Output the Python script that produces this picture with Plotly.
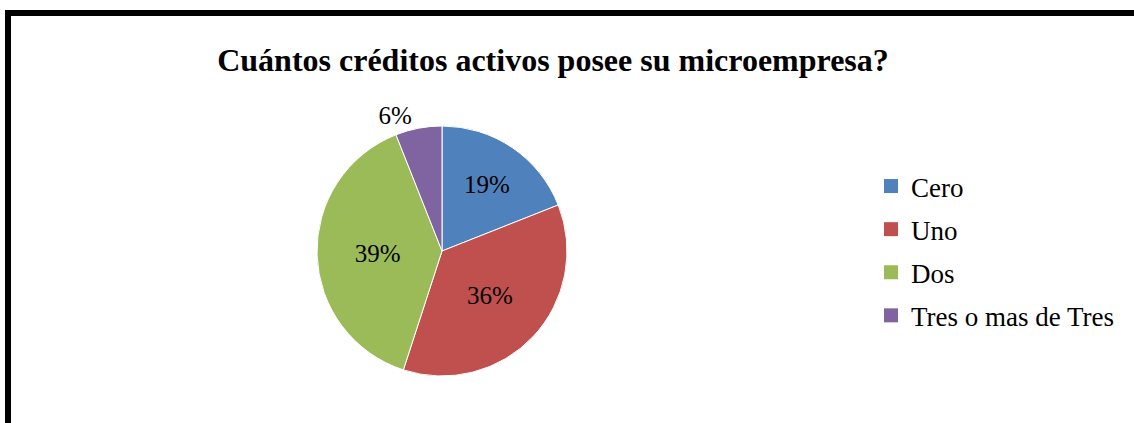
import plotly.graph_objects as go

categories = ["Cero", "Uno", "Dos", "Tres o mas de Tres"]
values = [19, 36, 39, 6]
colors = ["#4F81BD", "#C0504D", "#9BBB59", "#8064A2"]
title_text = "Cuántos créditos activos posee su microempresa?"

W, H = 1134, 423
SERIF = "Liberation Serif, Times New Roman, serif"

fig = go.Figure()
fig.add_trace(go.Pie(
    labels=categories,
    values=values,
    sort=False,
    direction="clockwise",
    rotation=0,
    marker=dict(colors=colors, line=dict(color="white", width=1)),
    texttemplate="%{percent:.0%}",
    textposition=["inside", "inside", "inside", "outside"],
    insidetextorientation="horizontal",
    textfont=dict(family=SERIF, size=25, color="black"),
    showlegend=False,
    hoverinfo="label+percent",
    domain=dict(x=[317 / W, 567 / W], y=[(172 - 125) / H, (172 + 125) / H]),
))

# legend entries (one group each so the spacing can be controlled)
for cat, col in zip(categories, colors):
    fig.add_trace(go.Scatter(
        x=[None], y=[None], mode="markers", name=cat, legendgroup=cat,
        marker=dict(symbol="square", size=14, color=col),
        showlegend=True,
    ))

fig.update_layout(
    width=W, height=H,
    margin=dict(l=0, r=0, t=0, b=0),
    paper_bgcolor="white", plot_bgcolor="white",
    xaxis=dict(visible=False), yaxis=dict(visible=False),
    title=dict(text="<b>" + title_text + "</b>", x=553 / W, xanchor="center",
               y=(H - 60) / H, yanchor="middle",
               font=dict(family=SERIF, size=32, color="black")),
    legend=dict(x=871 / W, xanchor="left", y=(H - 162) / H, yanchor="top",
                font=dict(family=SERIF, size=27, color="black"),
                tracegroupgap=5, bgcolor="rgba(0,0,0,0)"),
    shapes=[dict(type="rect", xref="paper", yref="paper",
                 x0=8 / W, x1=1.05, y0=-0.05, y1=(H - 13) / H,
                 line=dict(color="black", width=6), fillcolor="rgba(0,0,0,0)")],
)

fig.write_html("out.html", config={"displayModeBar": False},
               post_script="document.body.style.margin='0px';")
